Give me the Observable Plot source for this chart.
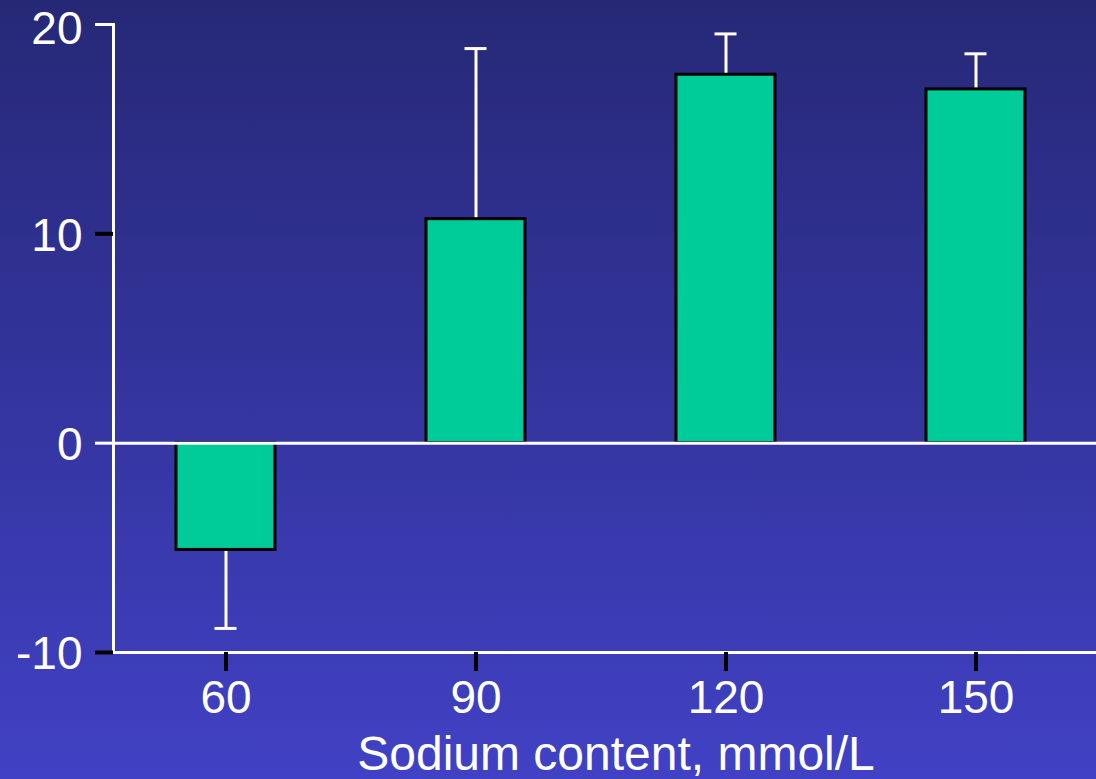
<!DOCTYPE html>
<html>
<head>
<meta charset="utf-8">
<script src="https://cdn.jsdelivr.net/npm/d3@7"></script>
<script src="https://cdn.jsdelivr.net/npm/@observablehq/plot@0.6"></script>
<style>
  html, body { margin: 0; padding: 0; background: #3333a0; }
  #chart svg { display: block; }
</style>
</head>
<body>
<div id="chart"></div>
<script>
// Data
const sodium = ["60", "90", "120", "150"];           // x categories (mmol/L)
const change = [-5.1, 10.7, 17.6, 16.9];             // bar values
const errorEnd = [-8.85, 18.85, 19.55, 18.6];        // end of error bars
const yTicksWhite = [20, 0];
const yTicksBlack = [10, -10];
const yLabelsTop = [20];
const yLabelsRest = [10, 0, -10];
const xLabel = "Sodium content, mmol/L";

const data = sodium.map((s, i) => ({s, v: change[i], e: errorEnd[i]}));

const font = "Liberation Sans, Arial, Helvetica, sans-serif";
const fmt = d => String(d);
const noLabel = () => "";

const chart = Plot.plot({
  width: 1096,
  height: 779,
  marginTop: 24,
  marginBottom: 127,
  marginLeft: 113,
  marginRight: 0,
  style: {
    background: "linear-gradient(to bottom, #262876 0%, #4141c5 100%)",
    fontFamily: font,
    color: "white",
    overflow: "visible"
  },
  x: {
    type: "band",
    domain: sodium,
    range: [50.3, 1151.3],
    paddingInner: 0.605,
    paddingOuter: 0.5,
    axis: null
  },
  y: {
    domain: [-10, 20],
    axis: null
  },
  marks: [
    // error bar stems
    Plot.ruleX(data, {x: "s", y1: "v", y2: "e", stroke: "white", strokeWidth: 3}),
    // bars
    Plot.barY(data, {x: "s", y: "v", fill: "#00cc99", stroke: "black", strokeWidth: 3}),
    // error bar caps
    Plot.tickY(data, {x: "s", y: "e", stroke: "white", strokeWidth: 3, insetLeft: 38.5, insetRight: 38.5}),
    // zero line
    Plot.ruleY([0], {stroke: "white", strokeWidth: 3}),
    // axis lines
    Plot.frame({anchor: "left", stroke: "white", strokeWidth: 3}),
    Plot.frame({anchor: "bottom", stroke: "white", strokeWidth: 3}),
    // y axis ticks (no labels)
    Plot.axisY({ticks: yTicksWhite, tickSize: 18, stroke: "white", strokeWidth: 3, strokeOpacity: 1, tickFormat: noLabel, label: null}),
    Plot.axisY({ticks: yTicksBlack, tickSize: 18, stroke: "black", strokeWidth: 4, strokeOpacity: 1, tickFormat: noLabel, label: null}),
    // y axis labels
    Plot.text(yLabelsTop, {
      y: d => d, text: fmt, frameAnchor: "left", textAnchor: "end",
      dx: -31, dy: 5, fontSize: 46, fill: "white"
    }),
    Plot.text(yLabelsRest, {
      y: d => d, text: fmt, frameAnchor: "left", textAnchor: "end",
      dx: -31, dy: 2, fontSize: 46, fill: "white"
    }),
    // x axis ticks and labels
    Plot.axisX({tickSize: 19, tickPadding: 9, stroke: "black", strokeWidth: 4, strokeOpacity: 1, fontSize: 46, fill: "white", label: null}),
    // x axis title
    Plot.text([xLabel], {frameAnchor: "bottom", dx: 11, dy: 117, lineAnchor: "bottom", fontSize: 48, fill: "white"})
  ]
});

document.getElementById("chart").appendChild(chart);
</script>
</body>
</html>
